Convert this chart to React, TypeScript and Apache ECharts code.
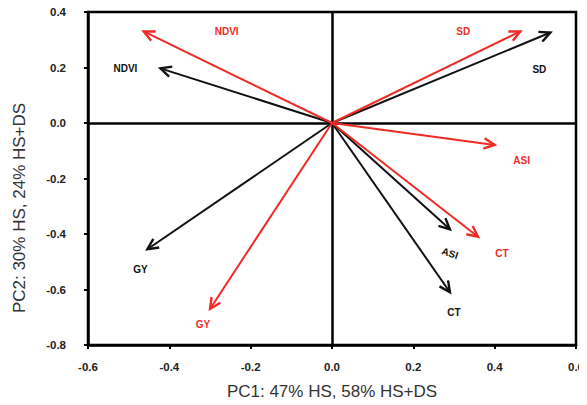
import React, { useEffect, useRef } from "react";
import * as echarts from "echarts";

// Trait loadings
const traits = ["NDVI", "SD", "ASI", "CT", "GY"];
// black arrows (HS)
const hsPC1 = [-0.422, 0.537, 0.29, 0.29, -0.454];
const hsPC2 = [0.197, 0.326, -0.383, -0.61, -0.455];
// red arrows (HS+DS)
const hsdsPC1 = [-0.463, 0.463, 0.4, 0.359, -0.3];
const hsdsPC2 = [0.33, 0.33, -0.079, -0.41, -0.67];

const xTitle = "PC1: 47% HS, 58% HS+DS";
const yTitle = "PC2: 30% HS, 24% HS+DS";

// label placement (pixel offsets from arrow tip) and rotation
const blackLabelStyle: [number, number, number][] = [
  [-35, 0, 0],
  [-11, 37, 0],
  [0, 24, -18],
  [4, 20, 0],
  [-7, 20, 0],
];
const redLabelStyle: [number, number, number][] = [
  [83, 0, 0],
  [-57, 0, 0],
  [27, 16, 0],
  [24, 17, 0],
  [-7, 16, 0],
];

const RED = "#ee2b24";
const BLACK = "#111111";
const FONT = "Liberation Sans";

function makeArrowSeries(
  name: string,
  xs: number[],
  ys: number[],
  color: string,
  lab: [number, number, number][]
) {
  return {
    type: "custom",
    name,
    z: 5,
    data: xs.map((x, i) => [x, ys[i], i]),
    encode: { x: 0, y: 1 },
    renderItem: (params: any, api: any) => {
      const vx = api.value(0);
      const vy = api.value(1);
      const idx = api.value(2);
      const o = api.coord([0, 0]);
      const t = api.coord([vx, vy]);
      const a = Math.atan2(t[1] - o[1], t[0] - o[0]);
      const L = 12;
      const s = 0.45;
      const p1 = [t[0] - L * Math.cos(a - s), t[1] - L * Math.sin(a - s)];
      const p2 = [t[0] - L * Math.cos(a + s), t[1] - L * Math.sin(a + s)];
      const ls = lab[idx];
      return {
        type: "group",
        children: [
          {
            type: "line",
            shape: { x1: o[0], y1: o[1], x2: t[0], y2: t[1] },
            style: { stroke: color, lineWidth: 2 },
          },
          {
            type: "polyline",
            shape: { points: [p1, t, p2] },
            style: { stroke: color, lineWidth: 2.4, fill: null },
          },
          {
            type: "text",
            x: t[0] + ls[0],
            y: t[1] + ls[1],
            rotation: (ls[2] * Math.PI) / 180,
            style: {
              text: traits[idx],
              fill: color,
              font: `bold 10px "${FONT}"`,
              align: "center",
              verticalAlign: "middle",
            },
          },
        ],
      };
    },
  };
}

export default function App() {
  const ref = useRef<HTMLDivElement>(null);
  useEffect(() => {
    if (!ref.current) return;
    const chart = echarts.init(ref.current, undefined, { renderer: "svg" });
    const axisCommon = {
      type: "value",
      interval: 0.2,
      axisLine: { show: true, onZero: false, lineStyle: { color: "#000", width: 2.5 } },
      axisTick: { show: true, inside: false, length: 4, lineStyle: { color: "#000", width: 2 } },
      splitLine: { show: false },
      nameLocation: "middle",
      nameTextStyle: { fontFamily: FONT, fontSize: 17, color: "#333" },
    };
    const labelCommon = {
      formatter: (v: number) => v.toFixed(1),
      fontWeight: "bold",
      fontSize: 11.5,
      color: "#222",
      fontFamily: FONT,
    };
    chart.setOption({
      animation: false,
      backgroundColor: "#fff",
      textStyle: { fontFamily: FONT },
      grid: {
        left: 88,
        right: 8,
        top: 12,
        bottom: 57,
        show: true,
        borderColor: "#000",
        borderWidth: 2.5,
      },
      graphic: [
        {
          type: "text",
          x: 19,
          y: 208,
          rotation: Math.PI / 2,
          style: {
            text: yTitle,
            font: `17px "${FONT}"`,
            fill: "#333",
            align: "center",
            verticalAlign: "middle",
          },
        },
      ],
      xAxis: {
        ...axisCommon,
        min: -0.6,
        max: 0.6,
        name: xTitle,
        nameGap: 38,
        axisLabel: { ...labelCommon, margin: 16 },
      },
      yAxis: {
        ...axisCommon,
        min: -0.8,
        max: 0.4,
        axisLabel: { ...labelCommon, margin: 22 },
      },
      series: [
        {
          type: "scatter",
          data: [],
          z: 2,
          markLine: {
            silent: true,
            symbol: ["none", "none"],
            label: { show: false },
            lineStyle: { color: "#000", width: 2.5, type: "solid" },
            data: [{ xAxis: 0 }, { yAxis: 0 }],
          },
        },
        makeArrowSeries("HS", hsPC1, hsPC2, BLACK, blackLabelStyle),
        makeArrowSeries("HS+DS", hsdsPC1, hsdsPC2, RED, redLabelStyle),
      ],
    });
    return () => chart.dispose();
  }, []);
  return <div ref={ref} style={{ width: 587, height: 405, marginLeft: -8, marginTop: -8 }} />;
}
